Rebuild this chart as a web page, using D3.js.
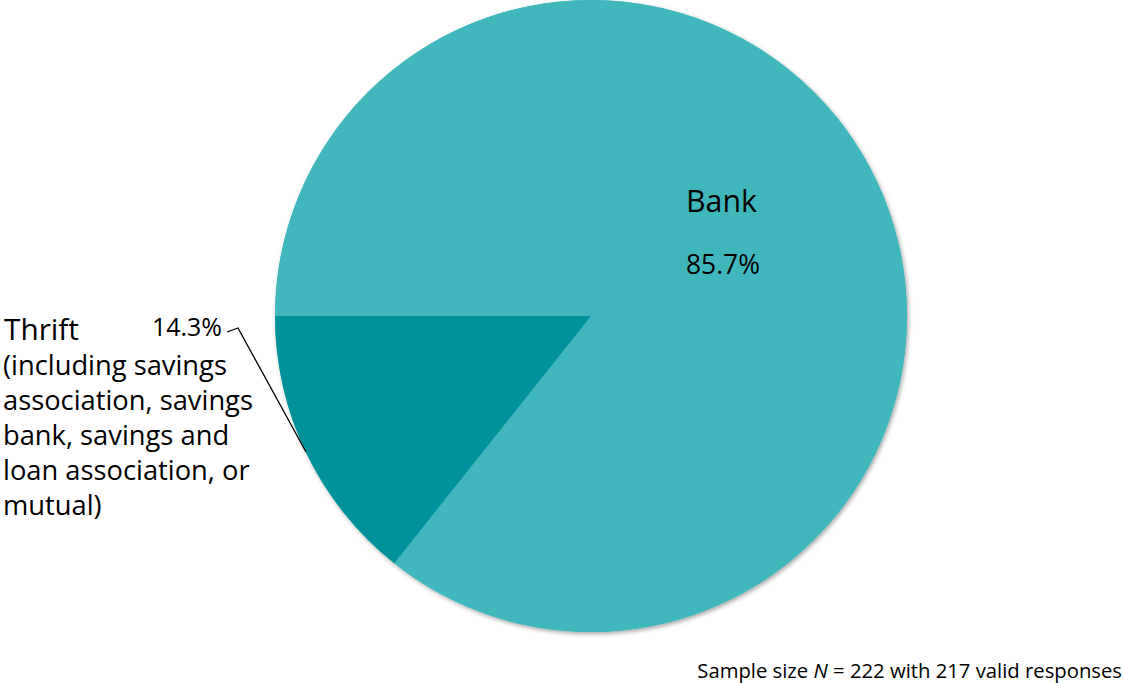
<!DOCTYPE html>
<html>
<head>
<meta charset="utf-8">
<script src="https://cdn.jsdelivr.net/npm/d3@7"></script>
<style>
  html, body { margin: 0; padding: 0; background: #fff; }
  svg { display: block; font-family: "Open Sans", Lato, sans-serif; font-weight: 500; }
</style>
</head>
<body>
<svg id="chart" width="1124" height="683"></svg>
<script>
const categories = ["Bank", "Thrift"];
const values = [85.7, 14.3];
const valueLabels = ["85.7%", "14.3%"];
const thriftNote = ["(including savings", "association, savings", "bank, savings and", "loan association, or", "mutual)"];
const footnote = { pre: "Sample size ", n: "N", post: " = 222 with 217 valid responses" };
const colors = ["#40B7BD", "#00929A"];

const svg = d3.select("#chart");
const cx = 591, cy = 316, r = 316;

const defs = svg.append("defs");
const f = defs.append("filter").attr("id", "shadow").attr("x", "-5%").attr("y", "-5%").attr("width", "110%").attr("height", "110%");
f.append("feDropShadow").attr("dx", 1.5).attr("dy", 2).attr("stdDeviation", 2).attr("flood-color", "#000").attr("flood-opacity", 0.35);

const pie = d3.pie().sort(null).value(d => d)
  .startAngle(-Math.PI / 2).endAngle(3 * Math.PI / 2);
const arcs = pie(values);
const arc = d3.arc().innerRadius(0).outerRadius(r);

const g = svg.append("g").attr("transform", `translate(${cx},${cy})`);
g.append("circle").attr("r", r).attr("fill", colors[0]).attr("filter", "url(#shadow)");
g.selectAll("path.slice").data(arcs).join("path")
  .attr("class", "slice")
  .attr("d", arc)
  .attr("fill", (d, i) => colors[i]);

// fit font size to a target width
function fit(sel, target, base) {
  sel.attr("font-size", base);
  const w = sel.node().getComputedTextLength();
  sel.attr("font-size", (base * target / w).toFixed(2));
}

// Bank labels
fit(svg.append("text").attr("x", 686).attr("y", 212).attr("fill", "#000").text(categories[0]), 71, 30);
fit(svg.append("text").attr("x", 686).attr("y", 274).attr("fill", "#000").text(valueLabels[0]), 74, 26);

// Thrift labels
fit(svg.append("text").attr("x", 4).attr("y", 340).attr("fill", "#000").text(categories[1]), 75, 30);
fit(svg.append("text").attr("x", 152).attr("y", 336).attr("fill", "#000").text(valueLabels[1]), 70, 26);
const noteG = svg.append("g");
const noteTexts = noteG.selectAll("text").data(thriftNote).join("text")
  .attr("x", 3).attr("y", (d, i) => 375 + i * 35)
  .attr("fill", "#000").text(d => d);
// size the note block from its widest line
const probe = noteTexts.filter((d, i) => i === 1);
probe.attr("font-size", 26);
const pw = probe.node().getComputedTextLength();
noteTexts.attr("font-size", (26 * 250 / pw).toFixed(2));

// leader line
svg.append("path")
  .attr("d", "M227,332 L238,328 L306,452")
  .attr("fill", "none").attr("stroke", "#000").attr("stroke-width", 1.3);

// footnote
const ft = svg.append("text").attr("x", 1122).attr("y", 678).attr("text-anchor", "end").attr("fill", "#000");
ft.append("tspan").text(footnote.pre);
ft.append("tspan").attr("font-style", "italic").text(footnote.n);
ft.append("tspan").text(footnote.post);
fit(ft, 425, 20);
</script>
</body>
</html>
